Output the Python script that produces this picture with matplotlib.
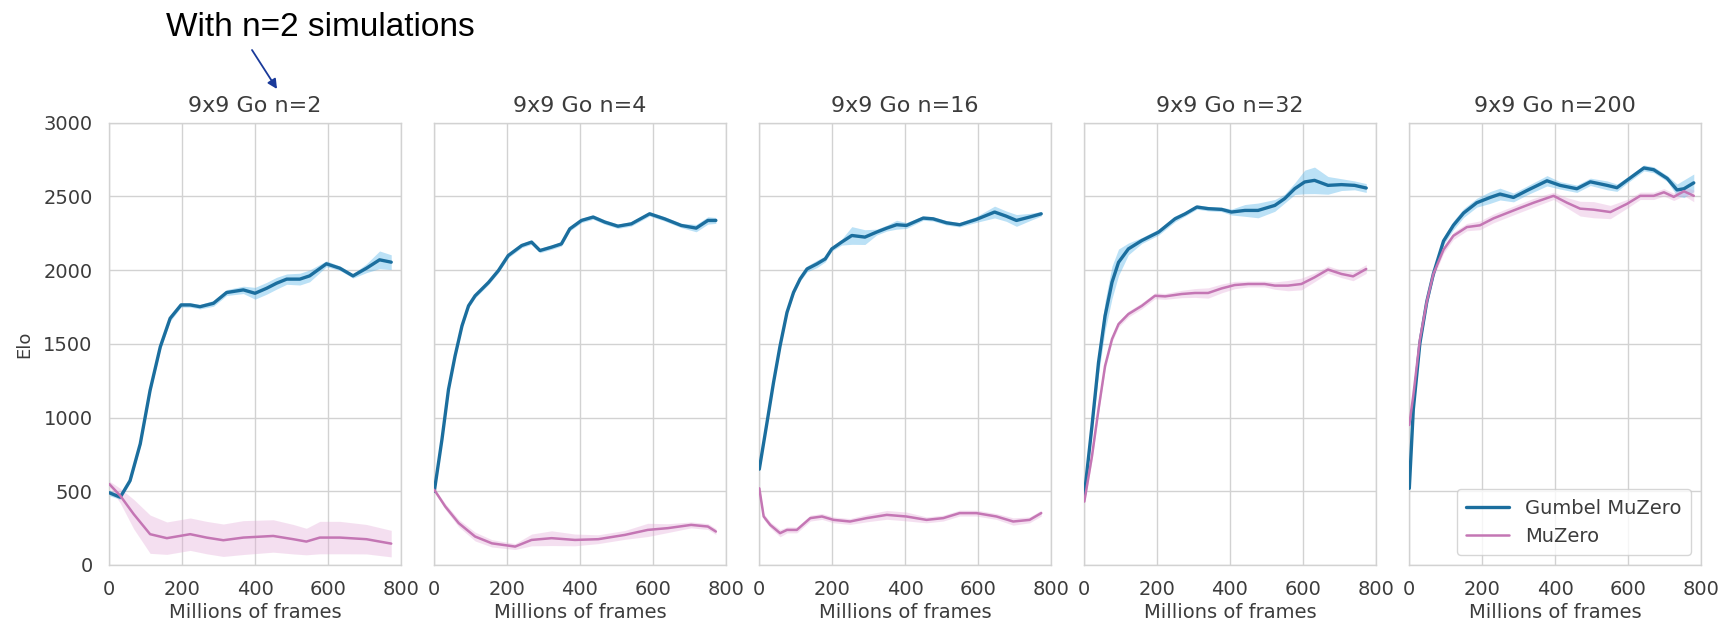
import matplotlib
matplotlib.use("Agg")
import matplotlib.pyplot as plt
import numpy as np

plt.rcParams['font.family'] = ['DejaVu Sans']

titles = ["9x9 Go n=2", "9x9 Go n=4", "9x9 Go n=16", "9x9 Go n=32", "9x9 Go n=200"]
series_names = ["Gumbel MuZero", "MuZero"]
x_ticks = [0, 200, 400, 600, 800]
y_ticks = [0, 500, 1000, 1500, 2000, 2500, 3000]

# ---- panel 1: n=2 ----
g1_x = [0, 30, 57, 85, 112, 140, 167, 197, 222, 249, 286, 322, 368, 400, 432, 459, 487, 523, 550, 596, 633, 669, 706, 742, 774]
g1_y = [490, 460, 572, 822, 1185, 1480, 1673, 1764, 1764, 1752, 1775, 1848, 1866, 1843, 1877, 1911, 1939, 1939, 1961, 2043, 2013, 1961, 2013, 2070, 2054]
g1_s = [20, 15, 15, 20, 20, 20, 20, 15, 15, 15, 20, 20, 25, 40, 40, 40, 35, 40, 40, 20, 15, 15, 30, 60, 50]
m1_x = [0, 30, 67, 112, 158, 222, 267, 313, 368, 450, 505, 541, 578, 633, 706, 774]
m1_y = [549, 470, 345, 209, 182, 209, 186, 168, 186, 197, 175, 159, 186, 186, 175, 145]
m1_s = [20, 50, 100, 130, 110, 110, 110, 110, 115, 110, 100, 90, 110, 110, 100, 90]

# ---- panel 2: n=4 ----
g2_x = [0, 21, 39, 57, 76, 94, 112, 149, 176, 203, 240, 267, 290, 322, 349, 372, 404, 436, 468, 504, 541, 591, 632, 678, 719, 751, 773]
g2_y = [500, 851, 1191, 1418, 1622, 1758, 1826, 1917, 1997, 2099, 2167, 2190, 2133, 2156, 2178, 2280, 2337, 2360, 2326, 2298, 2314, 2382, 2348, 2303, 2285, 2337, 2337]
g2_s = [15] * 24 + [25, 25, 20]
m2_x = [0, 30, 67, 112, 158, 222, 267, 322, 386, 450, 523, 586, 641, 705, 751, 773]
m2_y = [510, 397, 284, 193, 147, 125, 170, 182, 170, 175, 204, 238, 250, 272, 261, 227]
m2_s = [10, 20, 25, 30, 25, 20, 40, 50, 40, 30, 30, 45, 30, 20, 20, 20]

# ---- panel 3: n=16 ----
g3_x = [0, 21, 39, 57, 76, 94, 112, 131, 158, 181, 199, 226, 254, 290, 322, 350, 377, 404, 450, 477, 514, 550, 596, 646, 678, 706, 742, 774]
g3_y = [650, 964, 1237, 1486, 1713, 1849, 1940, 2008, 2042, 2076, 2144, 2190, 2235, 2224, 2258, 2285, 2308, 2303, 2353, 2348, 2321, 2308, 2344, 2394, 2366, 2337, 2360, 2382]
g3_s = [15, 15, 15, 15, 15, 15, 15, 20, 25, 20, 15, 20, 60, 50, 20, 20, 30, 20, 15, 15, 15, 15, 20, 40, 35, 40, 25, 15]
m3_x = [0, 12, 30, 57, 76, 103, 140, 172, 204, 249, 295, 350, 404, 459, 505, 550, 596, 651, 697, 742, 774]
m3_y = [520, 329, 272, 216, 238, 238, 318, 329, 306, 295, 318, 340, 329, 306, 318, 352, 352, 329, 295, 306, 352]
m3_s = [20, 20, 20, 25, 20, 20, 20, 20, 20, 20, 25, 30, 30, 20, 20, 20, 20, 20, 25, 20, 20]

# ---- panel 4: n=32 ----
g4_x = [0, 21, 39, 57, 76, 94, 121, 158, 204, 249, 277, 309, 340, 377, 404, 441, 477, 523, 550, 578, 605, 632, 669, 706, 742, 774]
g4_y = [470, 942, 1373, 1690, 1917, 2053, 2144, 2201, 2258, 2348, 2382, 2428, 2417, 2412, 2394, 2405, 2405, 2439, 2485, 2553, 2598, 2609, 2575, 2580, 2575, 2557]
g4_s = [20, 40, 80, 100, 110, 90, 40, 20, 20, 20, 15, 15, 15, 15, 20, 40, 50, 40, 30, 40, 80, 90, 60, 40, 30, 30]
m4_x = [0, 21, 39, 57, 76, 94, 121, 158, 194, 222, 267, 304, 340, 377, 413, 450, 495, 523, 559, 596, 632, 669, 706, 738, 774]
m4_y = [430, 737, 1055, 1350, 1532, 1634, 1702, 1758, 1826, 1822, 1838, 1845, 1845, 1876, 1899, 1906, 1906, 1895, 1895, 1906, 1951, 2004, 1974, 1958, 2008]
m4_s = [20, 25, 25, 25, 20, 20, 20, 20, 20, 20, 25, 30, 35, 30, 25, 20, 20, 25, 35, 40, 30, 25, 25, 30, 30]

# ---- panel 5: n=200 ----
g5_x = [0, 11, 29, 48, 66, 94, 121, 149, 185, 222, 249, 286, 323, 378, 414, 460, 497, 543, 570, 598, 644, 671, 708, 735, 754, 781]
g5_y = [520, 1055, 1503, 1786, 1974, 2198, 2304, 2387, 2457, 2493, 2516, 2493, 2540, 2606, 2575, 2552, 2599, 2575, 2559, 2610, 2693, 2681, 2622, 2544, 2552, 2592]
g5_s = [20, 30, 30, 30, 25, 25, 30, 30, 30, 40, 40, 30, 30, 35, 25, 25, 25, 30, 25, 20, 20, 20, 20, 40, 60, 60]
m5_x = [0, 11, 29, 48, 66, 94, 121, 158, 194, 231, 268, 304, 341, 396, 433, 469, 506, 552, 598, 634, 671, 699, 726, 754, 781]
m5_y = [950, 1150, 1527, 1786, 1974, 2139, 2233, 2292, 2304, 2351, 2387, 2422, 2457, 2504, 2457, 2417, 2410, 2394, 2450, 2504, 2504, 2528, 2497, 2535, 2504]
m5_s = [30, 30, 30, 30, 25, 25, 25, 25, 30, 30, 30, 30, 30, 25, 35, 50, 55, 45, 30, 25, 25, 25, 25, 30, 40]

panels = [
    ((g1_x, g1_y, g1_s), (m1_x, m1_y, m1_s)),
    ((g2_x, g2_y, g2_s), (m2_x, m2_y, m2_s)),
    ((g3_x, g3_y, g3_s), (m3_x, m3_y, m3_s)),
    ((g4_x, g4_y, g4_s), (m4_x, m4_y, m4_s)),
    ((g5_x, g5_y, g5_s), (m5_x, m5_y, m5_s)),
]

line_colors = ["#1b6e9e", "#c476b4"]
band_colors = ["#56b4e9", "#e2a6d6"]
band_alpha = [0.40, 0.35]
line_widths = [2.4, 1.8]
text_color = "#3c3c3c"
grid_color = "#d2d2d2"

W, H = 1721, 624
fig = plt.figure(figsize=(W / 100, H / 100), dpi=100)
fig.patch.set_facecolor("white")

left0, axw, gap = 109.3, 291.4, 325.0
top, bottom = 122.7, 565.0
axes = []
for k in range(5):
    l = left0 + k * gap
    ax = fig.add_axes([l / W, 1 - bottom / H, axw / W, (bottom - top) / H])
    axes.append(ax)

for k, ax in enumerate(axes):
    handles = []
    for j, (xs, ys, ss) in enumerate(panels[k]):
        xs = np.asarray(xs, float)
        ys = np.asarray(ys, float)
        ss = np.asarray(ss, float)
        ax.fill_between(xs, ys - ss, ys + ss, color=band_colors[j],
                        alpha=band_alpha[j], lw=0, zorder=2)
        h, = ax.plot(xs, ys, color=line_colors[j], lw=line_widths[j],
                     zorder=3, label=series_names[j], solid_capstyle='round',
                     solid_joinstyle='round')
        handles.append(h)
    ax.set_xlim(0, 800)
    ax.set_ylim(0, 3000)
    ax.set_xticks(x_ticks)
    ax.set_yticks(y_ticks)
    ax.grid(True, color=grid_color, lw=1.0, zorder=0)
    ax.set_axisbelow(True)
    for sp in ax.spines.values():
        sp.set_color(grid_color)
        sp.set_linewidth(1.0)
    ax.tick_params(axis='x', length=0, labelsize=14, colors=text_color, pad=11)
    ax.tick_params(axis='y', length=0, labelsize=14, colors=text_color, pad=12)
    ax.set_title(titles[k], fontsize=16, color=text_color, pad=8)
    ax.set_xlabel("Millions of frames", fontsize=14, color=text_color, labelpad=3)
    if k == 0:
        ax.set_ylabel("Elo", fontsize=13, color=text_color, labelpad=7)
    else:
        ax.set_yticklabels([])
    if k == 4:
        leg = ax.legend(handles=handles, loc="lower right", fontsize=14,
                        frameon=True, fancybox=True, borderpad=0.5,
                        handlelength=2.2, labelspacing=0.45)
        leg.get_frame().set_edgecolor("#cccccc")
        for t in leg.get_texts():
            t.set_color(text_color)

fig.text(320 / W, 1 - 27 / H, "With n=2 simulations", fontsize=24,
         family=["Liberation Sans", "DejaVu Sans"], color="black",
         ha="center", va="center")
axes[0].annotate("", xy=(277 / W, 1 - 89 / H), xycoords="figure fraction",
                 xytext=(252 / W, 1 - 50 / H), textcoords="figure fraction",
                 arrowprops=dict(arrowstyle="-|>", color="#1a3a9a", lw=1.3,
                                 mutation_scale=14, shrinkA=0, shrinkB=0))

fig.savefig("out.png", dpi=100, facecolor="white")
